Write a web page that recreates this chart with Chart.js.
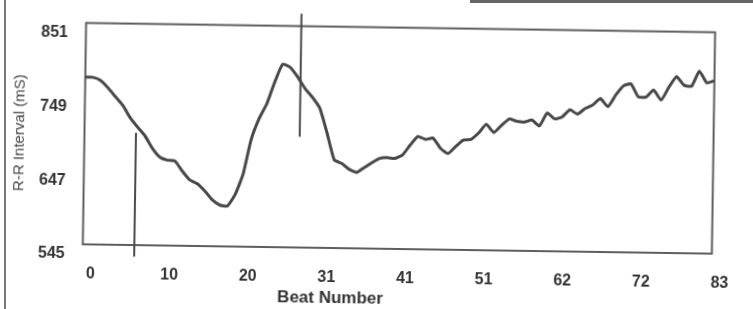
<!DOCTYPE html>
<html>
<head>
<meta charset="utf-8">
<script src="https://cdn.jsdelivr.net/npm/chart.js@4.4.0/dist/chart.umd.min.js"></script>
<style>
  body { margin: 0; background: #fff; overflow: hidden; }
  #wrap {
    position: absolute; left: 0; top: 0; width: 753px; height: 309px;
    transform: rotate(0.85deg); transform-origin: 399px 133px;
  }
  .edge { position: absolute; background: #777; }
</style>
</head>
<body>
<div class="edge" style="left:4px;top:0;width:2px;height:309px;"></div>
<div class="edge" style="left:470px;top:0;width:283px;height:3px;background:#666;"></div>
<div id="wrap"><canvas id="chart"></canvas></div>
<script>
// R-R interval per beat
const rrValues = [
  776, 776, 772, 762, 750, 738, 721, 708, 696, 679,
  667, 663, 662, 648, 636, 631, 621, 609, 602, 601,
  617, 645, 693, 722, 743, 773, 798, 794, 781, 765,
  753, 738, 704, 667, 662, 654, 650, 657, 664, 670,
  671, 670, 675, 689, 701, 697, 699, 685, 678, 688,
  697, 698, 707, 719, 708, 718, 727, 724, 723, 726,
  718, 736, 728, 731, 741, 735, 743, 748, 757, 746,
  762, 775, 778, 760, 760, 770, 756, 774, 789, 777,
  776, 797, 781, 784
];
const xTickLabels = ['0', '10', '20', '31', '41', '51', '62', '72', '83'];
const yTicks = [545, 647, 749, 851];

// the two vertical marker lines
const markerA = [{ x: 6.8, y: 700 }, { x: 6.8, y: 529 }];
const markerB = [{ x: 28.4, y: 868 }, { x: 28.4, y: 698 }];

const lastBeat = rrValues.length - 1;
const series = rrValues.map((v, i) => ({ x: i, y: v }));

Chart.defaults.font.family = '"Liberation Sans", Arial, sans-serif';
Chart.defaults.color = '#333';

// plot frame and x title
const framePlugin = {
  id: 'frame',
  beforeDatasetsDraw(chart) {
    const { ctx, chartArea: a } = chart;
    ctx.save();
    ctx.strokeStyle = '#5e5e5e';
    ctx.lineWidth = 2;
    ctx.strokeRect(a.left, a.top, a.right - a.left, a.bottom - a.top);
    ctx.font = 'bold 17px "Liberation Sans", Arial, sans-serif';
    ctx.fillStyle = '#333';
    ctx.textAlign = 'center';
    ctx.textBaseline = 'middle';
    ctx.fillText('Beat Number', a.left + 248, 299);
    ctx.restore();
  }
};

new Chart(document.getElementById('chart'), {
  type: 'line',
  data: {
    datasets: [
      {
        data: series,
        borderColor: '#484848',
        borderWidth: 3,
        pointRadius: 0,
        tension: 0.15
      },
      {
        data: markerA,
        borderColor: '#4a4a4a',
        borderWidth: 2,
        pointRadius: 0,
        clip: false
      },
      {
        data: markerB,
        borderColor: '#4a4a4a',
        borderWidth: 2,
        pointRadius: 0,
        clip: false
      }
    ]
  },
  options: {
    responsive: true,
    maintainAspectRatio: false,
    animation: false,
    layout: { padding: { left: 0, top: 17.5, right: 39.4, bottom: 0 } },
    plugins: {
      legend: { display: false },
      tooltip: { enabled: false }
    },
    scales: {
      x: {
        type: 'linear',
        min: 0,
        max: lastBeat,
        grid: { display: false, drawTicks: false },
        border: { display: false },
        afterFit: s => { s.height = 60; },
        afterBuildTicks: s => {
          s.ticks = xTickLabels.map((l, i) => ({ value: i * lastBeat / (xTickLabels.length - 1) }));
        },
        ticks: {
          padding: 20,
          labelOffset: 8,
          maxRotation: 0,
          autoSkip: false,
          font: { size: 16, weight: 'bold' },
          callback: (v, i) => xTickLabels[i]
        }
      },
      y: {
        min: yTicks[0],
        max: yTicks[yTicks.length - 1],
        grid: { display: false, drawTicks: false },
        border: { display: false },
        afterFit: s => { s.width = 84.5; },
        afterBuildTicks: s => { s.ticks = yTicks.map(v => ({ value: v })); },
        ticks: {
          padding: 18,
          labelOffset: 10,
          font: { size: 16, weight: 'bold' }
        },
        title: {
          display: true,
          text: 'R-R Interval (mS)',
          color: '#444',
          font: { size: 15 },
          padding: { top: 11, bottom: 0 }
        }
      }
    }
  },
  plugins: [framePlugin]
});
</script>
</body>
</html>
